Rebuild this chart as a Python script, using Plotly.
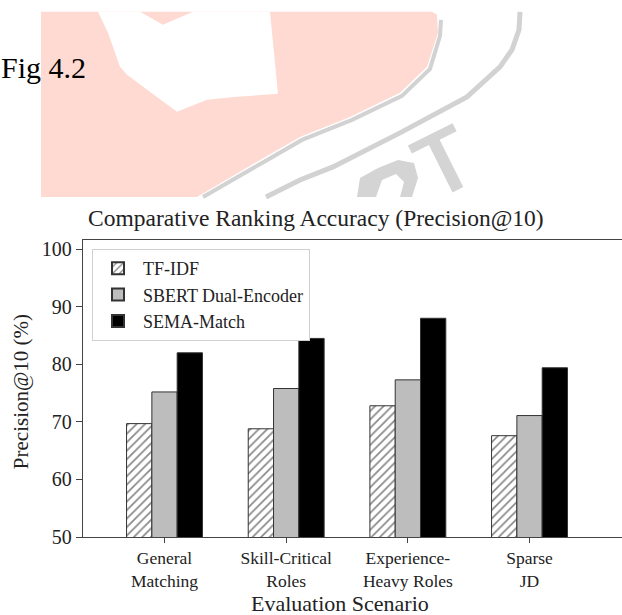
import plotly.graph_objects as go

# ---- data ----
scenarios = ["General<br>Matching", "Skill-Critical<br>Roles", "Experience-<br>Heavy Roles", "Sparse<br>JD"]
tfidf = [69.7, 68.8, 72.8, 67.6]
sbert = [75.2, 75.8, 77.3, 71.1]
sema = [82.0, 84.5, 88.0, 79.4]
series_names = ["TF-IDF", "SBERT Dual-Encoder", "SEMA-Match"]
y_ticks = [50, 60, 70, 80, 90, 100]

W, H = 622, 615
ML, MR, MT, MB = 83, 0, 240, 78.3
PW, PH = W - ML - MR, H - MT - MB
FONT = "Liberation Serif"
EDGE = "#333333"


def px(X):
    return (X - ML) / PW


def py(Y):
    return (H - MB - Y) / PH


def path(points, close=True):
    s = "M " + " L ".join(f"{px(x):.5f},{py(y):.5f}" for x, y in points)
    return s + (" Z" if close else "")


fig = go.Figure()
fig.add_trace(go.Bar(x=scenarios, y=tfidf, name=series_names[0],
                     marker=dict(color="white", line=dict(color=EDGE, width=1),
                                 pattern=dict(shape="/", fgcolor="#111111", bgcolor="white",
                                              size=6, solidity=0.28))))
fig.add_trace(go.Bar(x=scenarios, y=sbert, name=series_names[1],
                     marker=dict(color="#bdbdbd", line=dict(color=EDGE, width=1))))
fig.add_trace(go.Bar(x=scenarios, y=sema, name=series_names[2],
                     marker=dict(color="black", line=dict(color=EDGE, width=1))))

# ---- page watermark (decoration behind the figure) ----
pink = "#ffdad3"
shapes = []
shapes.append(dict(type="path", xref="paper", yref="paper", layer="below",
                   path=path([(41, 12), (432, 12), (437, 15), (438, 33), (427, 67), (400, 93),
                              (350, 117), (300, 137), (260, 160), (197, 197), (41, 197)]),
                   fillcolor=pink, line=dict(width=0)))
shapes.append(dict(type="path", xref="paper", yref="paper", layer="below",
                   path=path([(98, 12), (108, 33), (120, 67), (127, 75), (177, 112), (207, 100),
                              (237, 97), (278, 94), (270, 12), (193, 12), (163, 25), (140, 12)]),
                   fillcolor="white", line=dict(width=0)))
shapes.append(dict(type="path", xref="paper", yref="paper", layer="below",
                   path=path([(441, 20), (440, 36), (430, 69), (402, 96), (352, 120), (302, 140),
                              (262, 163), (203, 197)], close=False),
                   line=dict(color="#d2d2d2", width=4)))
shapes.append(dict(type="path", xref="paper", yref="paper", layer="below",
                   path=path([(520, 12), (519, 30), (512, 50), (500, 67), (467, 97), (400, 133),
                              (333, 167), (300, 180), (280, 190), (266, 197)], close=False),
                   line=dict(color="#d2d2d2", width=5)))
# faint "T" and part of "R"
ux, uy = 0.894, -0.447
vx, vy = 0.447, 0.894
cx, cy = 432, 138


def loc(a, b):
    return (cx + a * ux + b * vx, cy + a * uy + b * vy)


tpoly = [loc(-25, -4), loc(25, -4), loc(25, 5), loc(6, 5), loc(6, 58), loc(-6, 58), loc(-6, 5), loc(-25, 5)]
shapes.append(dict(type="path", xref="paper", yref="paper", layer="below",
                   path=path(tpoly), fillcolor="#d4d4d4", line=dict(width=0)))
shapes.append(dict(type="path", xref="paper", yref="paper", layer="below",
                   path=path([(357, 197), (360, 178), (378, 168), (398, 160), (414, 163), (418, 178),
                              (412, 197), (400, 197), (404, 182), (396, 174), (382, 180), (376, 197)]),
                   fillcolor="#d4d4d4", line=dict(width=0)))

annotations = [
    dict(text="Fig 4.2", x=px(0), y=py(68), xref="paper", yref="paper", xanchor="left",
         yanchor="middle", showarrow=False, borderpad=0,
         font=dict(family=FONT, size=30, color="black")),
    dict(text="Comparative Ranking Accuracy (Precision@10)", x=px(316), y=py(218), xref="paper",
         yref="paper", xanchor="center", yanchor="middle", showarrow=False,
         font=dict(family=FONT, size=23.5, color="#222222")),
    dict(text="Evaluation Scenario", x=px(340), y=py(603), xref="paper", yref="paper",
         xanchor="center", yanchor="middle", showarrow=False,
         font=dict(family=FONT, size=22, color="#222222")),
    dict(text="Precision@10 (%)", x=px(21), y=py(392), xref="paper", yref="paper",
         xanchor="center", yanchor="middle", textangle=-90, showarrow=False,
         font=dict(family=FONT, size=21, color="#222222")),
]

fig.update_layout(
    width=W, height=H,
    margin=dict(l=ML, r=MR, t=MT, b=MB, pad=0, autoexpand=False),
    paper_bgcolor="white", plot_bgcolor="white",
    barmode="group", bargap=0.376, bargroupgap=0,
    font=dict(family=FONT, size=19, color="#222222"),
    showlegend=True,
    legend=dict(x=px(92), y=py(249), xanchor="left", yanchor="top",
                bgcolor="white", bordercolor="#d0d0d0", borderwidth=1,
                font=dict(family=FONT, size=18, color="#222222"),
                tracegroupgap=0, itemsizing="constant", itemwidth=40),
    shapes=shapes,
    annotations=annotations,
)
fig.update_xaxes(range=[-0.67, 3.76], showline=True, linecolor="#444444", linewidth=1.3,
                 mirror=True, ticks="outside", ticklen=5, tickcolor="#444444", automargin=False,
                 showgrid=False, zeroline=False, tickfont=dict(family=FONT, size=17.5))
fig.update_yaxes(range=[50, 101.6], tickvals=y_ticks, showline=True, linecolor="#444444",
                 linewidth=1.3, mirror=False, ticks="outside", ticklen=6, tickcolor="#444444",
                 automargin=False, showgrid=False, zeroline=False, tickfont=dict(family=FONT, size=20))

fig.write_html("out.html", config={"displayModeBar": False},
               post_script="document.body.style.margin='0';document.body.style.overflow='hidden';")
